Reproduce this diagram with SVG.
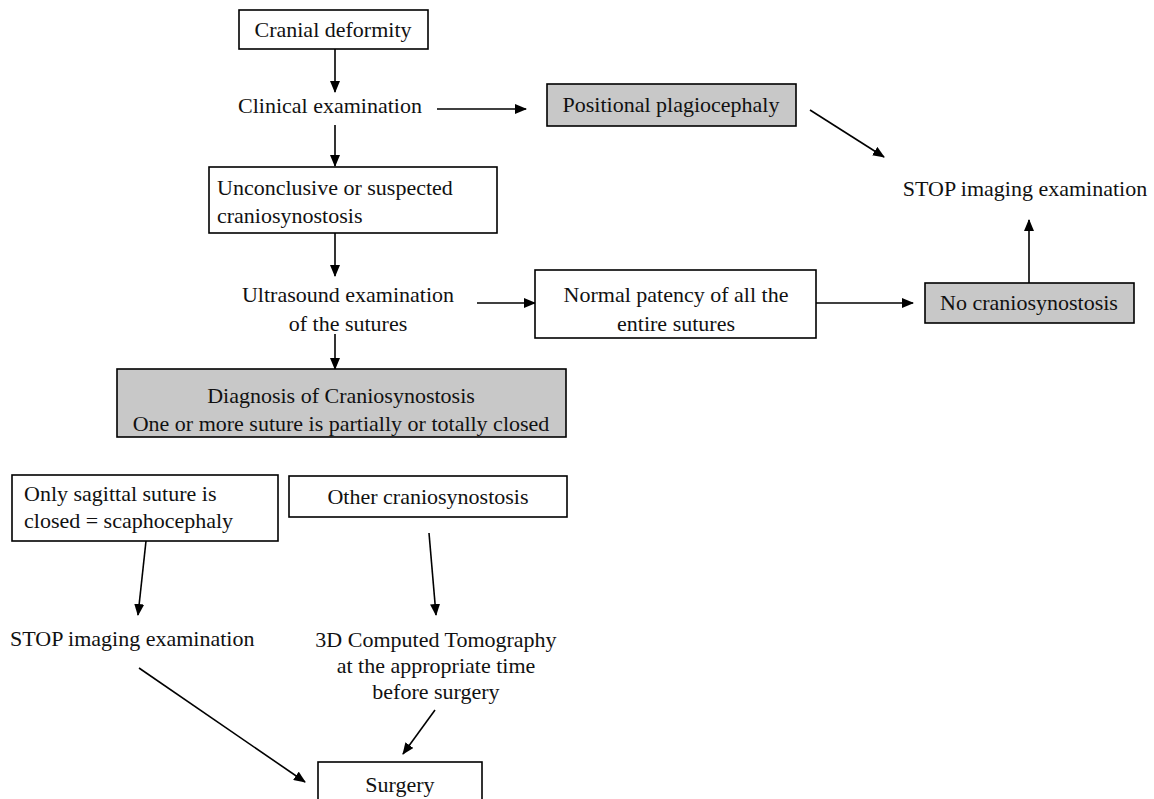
<svg xmlns="http://www.w3.org/2000/svg" width="1154" height="799" viewBox="0 0 1154 799">
<defs>
<style>
.box{fill:#fff;stroke:#000;stroke-width:1.6}
.gray{fill:#c8c8c8;stroke:#000;stroke-width:1.6}
text{font-family:"Liberation Serif","Tinos","Times New Roman","DejaVu Serif",serif;font-size:22px;fill:#111}
.c{text-anchor:middle}
.e{stroke:#000;stroke-width:1.6;fill:none;marker-end:url(#ah)}
</style>
<marker id="ah" viewBox="0 0 12 10" refX="11" refY="5" markerWidth="12" markerHeight="10" markerUnits="userSpaceOnUse" orient="auto"><path d="M0,0 L12,5 L0,10 z" fill="#000"/></marker>
</defs>
<rect width="1154" height="799" fill="#fff"/>
<g id="connectors">
<line class="e" x1="335" y1="49" x2="335" y2="92"/>
<line class="e" x1="437" y1="109" x2="526" y2="109"/>
<line class="e" x1="810" y1="110" x2="884" y2="157"/>
<line class="e" x1="335" y1="125" x2="335" y2="166"/>
<line class="e" x1="335" y1="233" x2="335" y2="276"/>
<line class="e" x1="477" y1="303" x2="535" y2="303"/>
<line class="e" x1="816" y1="303" x2="913" y2="303"/>
<line class="e" x1="1029" y1="283" x2="1029" y2="220"/>
<line class="e" x1="335" y1="334" x2="335" y2="369"/>
<line class="e" x1="146" y1="541" x2="138" y2="615"/>
<line class="e" x1="429" y1="533" x2="436" y2="615"/>
<line class="e" x1="139" y1="668" x2="305" y2="782"/>
<line class="e" x1="435" y1="710" x2="403" y2="754"/>
</g>
<g font-family="Liberation Serif, Tinos, Times New Roman, DejaVu Serif, serif">
<g id="cranial">
<rect class="box" x="239" y="10" width="189" height="39"/>
<text class="c" x="333" y="37">Cranial deformity</text>
</g>
<g id="clinical">
<text class="c" x="330" y="113">Clinical examination</text>
</g>
<g id="positional">
<rect class="gray" x="547" y="84" width="249" height="42"/>
<text class="c" x="671" y="112">Positional plagiocephaly</text>
</g>
<g id="stop-top">
<text class="c" x="1025" y="196">STOP imaging examination</text>
</g>
<g id="unconclusive">
<rect class="box" x="209" y="167" width="288" height="66"/>
<text x="217" y="195">Unconclusive or suspected</text>
<text x="217" y="223">craniosynostosis</text>
</g>
<g id="ultrasound">
<text class="c" x="348" y="302">Ultrasound examination</text>
<text class="c" x="348" y="331">of the sutures</text>
</g>
<g id="normal">
<rect class="box" x="535" y="270" width="281" height="68"/>
<text class="c" x="676" y="302">Normal patency of all the</text>
<text class="c" x="676" y="331">entire sutures</text>
</g>
<g id="nocranio">
<rect class="gray" x="925" y="283" width="209" height="40"/>
<text class="c" x="1029" y="310">No craniosynostosis</text>
</g>
<g id="diagnosis">
<rect class="gray" x="117" y="369" width="449" height="68"/>
<text class="c" x="341" y="403">Diagnosis of Craniosynostosis</text>
<text class="c" x="341" y="431">One or more suture is partially or totally closed</text>
</g>
<g id="sagittal">
<rect class="box" x="12" y="475" width="266" height="66"/>
<text x="24" y="501">Only sagittal suture is</text>
<text x="24" y="528">closed = scaphocephaly</text>
</g>
<g id="other">
<rect class="box" x="289" y="476" width="278" height="41"/>
<text class="c" x="428" y="504">Other craniosynostosis</text>
</g>
<g id="stop-bottom">
<text x="10" y="646">STOP imaging examination</text>
</g>
<g id="ct">
<text class="c" x="436" y="647">3D Computed Tomography</text>
<text class="c" x="436" y="673">at the appropriate time</text>
<text class="c" x="436" y="699">before surgery</text>
</g>
<g id="surgery">
<rect class="box" x="318" y="762" width="164" height="45"/>
<text class="c" x="400" y="792">Surgery</text>
</g>
</g>
</svg>
